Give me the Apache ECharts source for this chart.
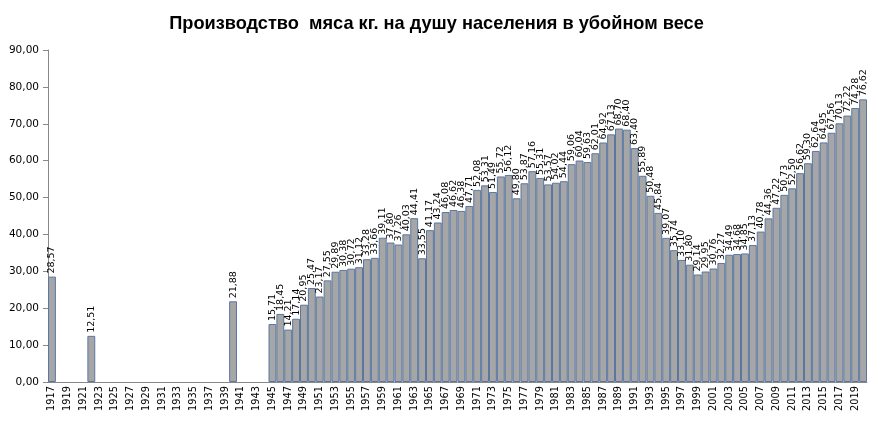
<!DOCTYPE html>
<html><head><meta charset="utf-8">
<script src="https://cdn.jsdelivr.net/npm/echarts@6/dist/echarts.min.js"></script>
<style>html,body{margin:0;padding:0;background:#fff}#c{width:873px;height:422px}</style>
</head><body><div id="c"></div>
<script>
const startYear = 1917;
const endYear = 2020;
const years = [];
for (let y = startYear; y <= endYear; y++) years.push(String(y));

// known values by year (missing years have no bar)
const valYears = [1917, 1922, 1940,
  1945,1946,1947,1948,1949,1950,1951,1952,1953,1954,1955,1956,1957,1958,1959,1960,1961,1962,
  1963,1964,1965,1966,1967,1968,1969,1970,1971,1972,1973,1974,1975,1976,1977,1978,1979,1980,
  1981,1982,1983,1984,1985,1986,1987,1988,1989,1990,1991,1992,1993,1994,1995,1996,1997,1998,
  1999,2000,2001,2002,2003,2004,2005,2006,2007,2008,2009,2010,2011,2012,2013,2014,2015,2016,
  2017,2018,2019,2020];
const meat = [28.57, 12.51, 21.88,
  15.71,18.45,14.21,17.14,20.95,25.47,23.17,27.55,29.89,30.38,30.72,31.12,33.28,33.66,39.11,37.80,37.26,40.03,
  44.41,33.55,41.17,43.24,46.08,46.62,46.38,47.71,52.08,53.31,51.49,55.72,56.12,49.80,53.87,57.16,55.31,53.57,
  54.02,54.44,59.06,60.04,59.63,62.01,64.92,67.13,68.70,68.40,63.40,55.89,50.48,45.84,39.07,35.74,33.10,31.80,
  29.14,29.95,30.76,32.27,34.49,34.68,34.85,37.13,40.78,44.36,47.22,50.73,52.50,56.62,59.30,62.64,64.95,67.56,
  70.13,72.22,74.28,76.62];

const seriesData = years.map(y => {
  const i = valYears.indexOf(Number(y));
  return i >= 0 ? meat[i] : '-';
});

const fmt = v => Number(v).toFixed(2).replace('.', ',');

const chart = echarts.init(document.getElementById('c'), null, {renderer: 'canvas'});
chart.setOption({
  animation: false,
  backgroundColor: '#fff',
  title: {
    text: 'Производство  мяса кг. на душу населения в убойном весе',
    left: 'center', top: 10,
    textStyle: {fontFamily: 'Liberation Sans', fontWeight: 'bold', fontSize: 18.2, color: '#000'}
  },
  grid: {left: 48, right: 6, top: 50, bottom: 40, containLabel: false},
  xAxis: {
    type: 'category',
    data: years,
    boundaryGap: true,
    axisLine: {lineStyle: {color: '#888', width: 1}},
    axisTick: {interval: 0, length: 5, lineStyle: {color: '#888'}},
    axisLabel: {interval: 1, rotate: 90, margin: 4, fontFamily: 'DejaVu Sans', fontSize: 9.8, color: '#000'}
  },
  yAxis: {
    type: 'value', min: 0, max: 90, interval: 10,
    splitLine: {show: false},
    axisLine: {show: true, lineStyle: {color: '#888', width: 1}},
    axisTick: {show: true, length: 5, lineStyle: {color: '#888'}},
    axisLabel: {formatter: fmt, margin: 9, fontFamily: 'DejaVu Sans', fontSize: 10.5, color: '#000'}
  },
  series: [{
    type: 'bar',
    data: seriesData,
    barCategoryGap: '0%',
    itemStyle: {color: '#a6a6a6', borderColor: '#5a77a3', borderWidth: 1},
    label: {
      show: true, position: 'top', rotate: 90, align: 'left', verticalAlign: 'middle',
      distance: 3, formatter: p => fmt(p.value),
      fontFamily: 'DejaVu Sans', fontSize: 9.5, color: '#000'
    }
  }]
});
</script></body></html>
